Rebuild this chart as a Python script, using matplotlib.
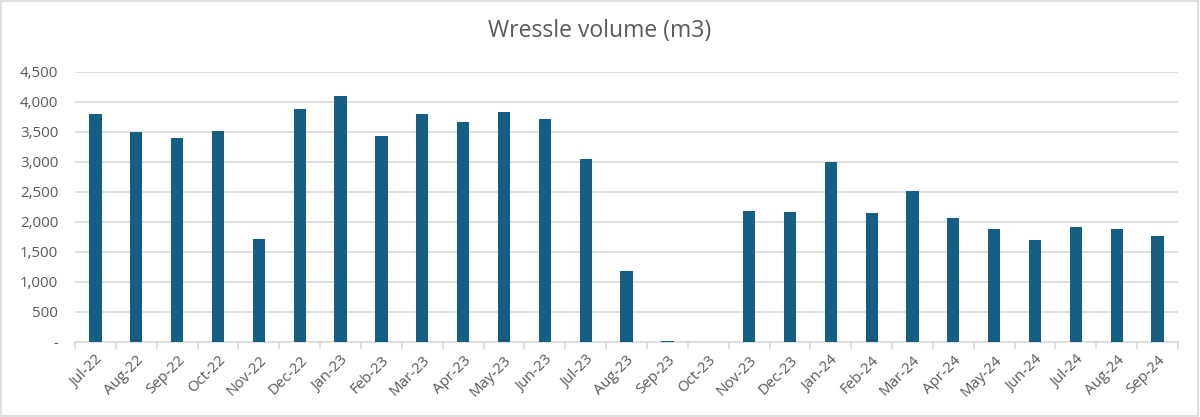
import numpy as np
import matplotlib
matplotlib.use("Agg")
import matplotlib.pyplot as plt
from matplotlib.patches import Rectangle
from matplotlib.ticker import FuncFormatter, FixedLocator

#####
# data
#####
months = ['Jul-22', 'Aug-22', 'Sep-22', 'Oct-22', 'Nov-22', 'Dec-22', 'Jan-23',
          'Feb-23', 'Mar-23', 'Apr-23', 'May-23', 'Jun-23', 'Jul-23', 'Aug-23',
          'Sep-23', 'Oct-23', 'Nov-23', 'Dec-23', 'Jan-24', 'Feb-24', 'Mar-24',
          'Apr-24', 'May-24', 'Jun-24', 'Jul-24', 'Aug-24', 'Sep-24']
volume = [3795, 3500, 3395, 3515, 1720, 3880, 4095,
          3425, 3790, 3670, 3830, 3705, 3045, 1180,
          10, 0, 2180, 2155, 3000, 2150, 2515,
          2070, 1885, 1695, 1920, 1880, 1765]
y_ticks = [0, 500, 1000, 1500, 2000, 2500, 3000, 3500, 4000, 4500]

bar_color = '#156082'
text_color = '#595959'
grid_color = '#d9d9d9'

plt.rcParams['font.family'] = ['Open Sans', 'DejaVu Sans']

fig = plt.figure(figsize=(12, 4.17), dpi=100)
ax = fig.add_axes([0.0625, 0.1806, 0.9192, 0.6474])

x = np.arange(len(months))
ax.bar(x, volume, width=0.30, color=bar_color, zorder=3)

ax.set_xlim(-0.5, len(months) - 0.5)
ax.set_ylim(0, 4500)

# y axis: thousands separator, "-" for zero
def fmt_y(v, pos):
    if v == 0:
        return '-'
    return '{:,.0f}'.format(v)
ax.yaxis.set_major_locator(FixedLocator(y_ticks))
ax.yaxis.set_major_formatter(FuncFormatter(fmt_y))
ax.tick_params(axis='y', length=0, labelsize=10.8, labelcolor=text_color, pad=12)
ax.grid(axis='y', color=grid_color, linewidth=1.2, zorder=0)

# x axis: labels at centres, tick marks between categories
ax.set_xticks(x)
ax.set_xticklabels(months, rotation=45, ha='right', rotation_mode='anchor')
ax.tick_params(axis='x', which='major', length=0, labelsize=10.8,
               labelcolor=text_color, pad=8)
ax.set_xticks(np.arange(-0.5, len(months), 1.0), minor=True)
ax.tick_params(axis='x', which='minor', length=5, color=grid_color, width=1.2)

for side in ['top', 'right', 'left']:
    ax.spines[side].set_visible(False)
ax.spines['bottom'].set_color(grid_color)
ax.spines['bottom'].set_linewidth(1.2)
ax.set_axisbelow(True)

fig.text(0.5, 0.925, 'Wressle volume (m3)', ha='center', va='center',
         fontsize=16.5, color=text_color)

## chart frame
fig.patches.append(Rectangle((0.001, 0.002), 0.997, 0.995, transform=fig.transFigure,
                             fill=False, edgecolor='#d9d9d9', linewidth=1.2))

plt.savefig('out.png', dpi=100)
plt.close()
